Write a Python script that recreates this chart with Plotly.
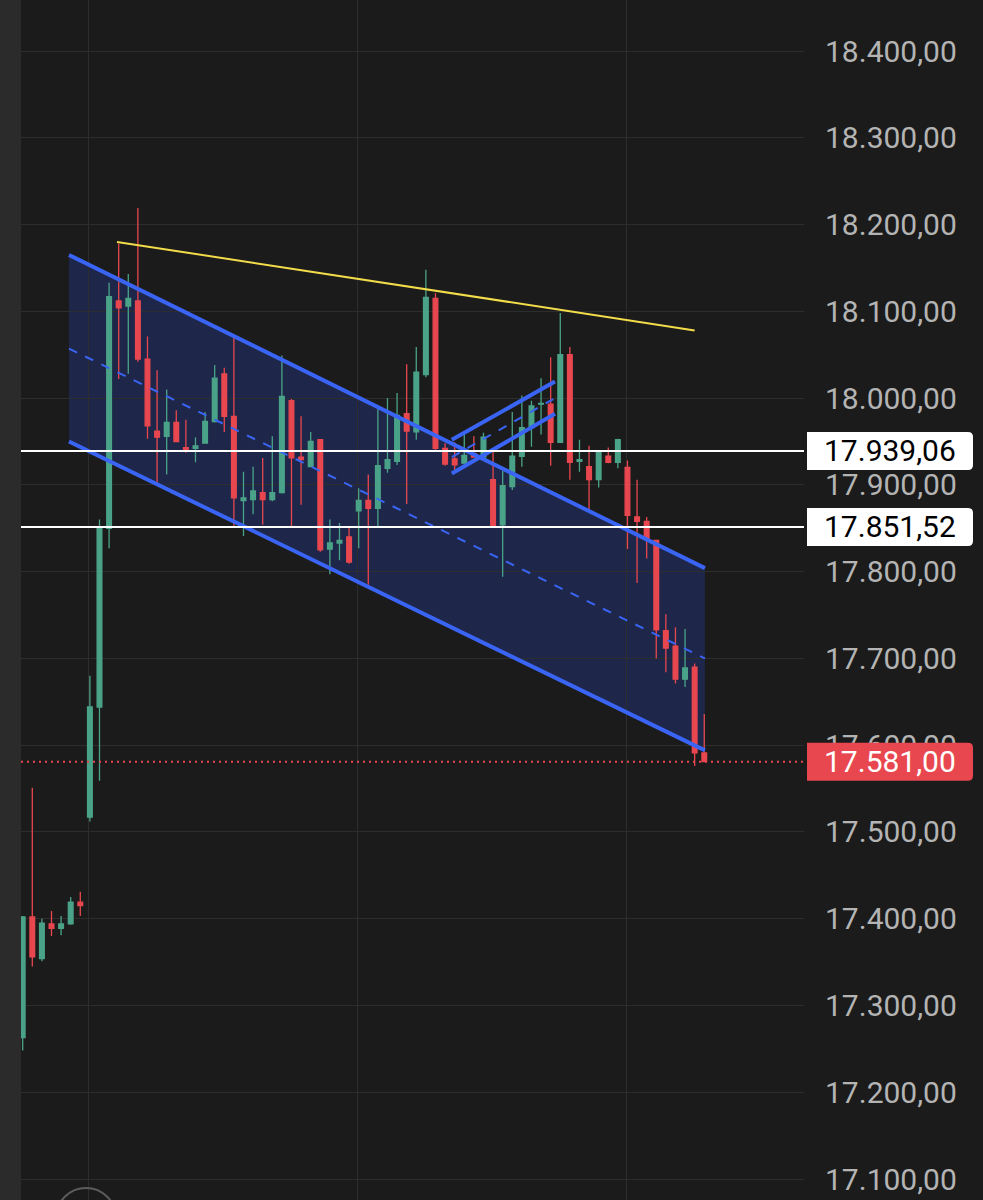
import plotly.graph_objects as go

# ---------------- data ----------------
opens = [17263, 17402, 17354, 17394, 17389, 17394, 17419, 17517, 17644, 17850,
         18112, 18106, 18112, 18045, 17962, 17956, 17972, 17943, 17942, 17948,
         17973, 18028, 17979, 17882, 17883, 17891, 17883, 17891, 17997, 17932,
         17921, 17952, 17826, 17833, 17840, 17870, 17882, 17873, 17919, 17927,
         17982, 17961, 18027, 18115, 17942, 17930, 17925, 17936, 17932, 17906,
         17854, 17898, 17933, 17966, 17993, 17993, 17949, 18050, 17927, 17921,
         17906, 17933, 17926, 17920, 17863, 17858, 17836, 17732, 17714, 17676,
         17690, 17591]
highs = [17403, 17551, 17400, 17409, 17403, 17425, 17431, 17680, 17860, 18133,
         18178, 18143, 18219, 18071, 18032, 18010, 17986, 17975, 17955, 17984,
         18038, 18035, 18071, 17915, 17921, 17931, 17956, 18049, 17999, 17979,
         17961, 17952, 17860, 17856, 17851, 17896, 17912, 17992, 18000, 18006,
         18039, 18059, 18148, 18121, 17948, 17949, 17960, 17956, 17960, 17938,
         17916, 17984, 18003, 17997, 18023, 18047, 18098, 18059, 17952, 17945,
         17939, 17943, 17953, 17928, 17906, 17863, 17836, 17751, 17736, 17734,
         17694, 17636]
lows = [17248, 17345, 17351, 17380, 17381, 17393, 17403, 17512, 17559, 17827,
        18022, 18028, 18042, 17953, 17901, 17912, 17949, 17937, 17926, 17948,
        17972, 17961, 17852, 17841, 17866, 17854, 17881, 17890, 17852, 17877,
        17921, 17823, 17797, 17813, 17809, 17827, 17785, 17852, 17914, 17923,
        17878, 17952, 18024, 17938, 17922, 17915, 17925, 17932, 17932, 17852,
        17794, 17894, 17921, 17944, 17958, 17922, 17949, 17906, 17915, 17872,
        17897, 17925, 17919, 17826, 17787, 17815, 17700, 17684, 17671, 17667,
        17576, 17581]
closes = [17402, 17356, 17395, 17389, 17394, 17419, 17415, 17644, 17851, 18117,
          18104, 18115, 18045, 17968, 17955, 17972, 17950, 17941, 17945, 17973,
          18023, 17979, 17885, 17885, 17893, 17883, 17891, 18002, 17931, 17929,
          17950, 17825, 17833, 17836, 17811, 17882, 17873, 17922, 17929, 17980,
          17962, 18030, 18116, 17942, 17924, 17923, 17934, 17932, 17955, 17852,
          17899, 17933, 17966, 17991, 17994, 17949, 18050, 17926, 17929, 17906,
          17937, 17926, 17952, 17865, 17858, 17838, 17733, 17712, 17676, 17689,
          17591, 17581]
candle_x = list(range(len(opens)))

# drawings (in candle-index / price units)
channel_x = [4.82, 71.07]
channel_upper = [18165, 17804]
channel_mid = [18057, 17700]
channel_lower = [17950, 17594]

trend_x = [9.82, 70.0]
trend_y = [18180, 18078]

small_x = [44.7, 55.45]
small_upper = [17952, 18019]
small_mid = [17932, 18000]
small_lower = [17913, 17982]

level_a = 17939.06
level_b = 17851.52
last_price = 17581.00

# ---------------- style ----------------
BG = "#1b1b1b"
GRID = "#2d2d2d"
UP = "#4aa388"
DOWN = "#e8474f"
BLUE = "#3a64f4"
FONT = "Roboto"
W, H = 983, 1200
PLOT_L, PLOT_R = 21, 804


def fmt(v):
    return f"{v:,.2f}".replace(",", "X").replace(".", ",").replace("X", ".")


fig = go.Figure()

fig.add_trace(go.Candlestick(
    x=candle_x, open=opens, high=highs, low=lows, close=closes,
    increasing=dict(line=dict(color=UP, width=1.3), fillcolor=UP),
    decreasing=dict(line=dict(color=DOWN, width=1.3), fillcolor=DOWN),
    whiskerwidth=0, hoverinfo="skip", showlegend=False,
))

line_specs = [
    (channel_x, channel_upper, BLUE, 4, "solid"),
    (channel_x, channel_lower, BLUE, 4, "solid"),
    (channel_x, channel_mid, BLUE, 2, "dash"),
    (small_x, small_upper, BLUE, 4, "solid"),
    (small_x, small_lower, BLUE, 4, "solid"),
    (small_x, small_mid, BLUE, 2, "dash"),
    (trend_x, trend_y, "#f2dc4a", 2, "solid"),
]
for xs, ys, col, w, dash in line_specs:
    fig.add_trace(go.Scatter(x=xs, y=ys, mode="lines",
                             line=dict(color=col, width=w, dash=dash),
                             hoverinfo="skip", showlegend=False))

shapes = []
# channel fill
path = (f"M {channel_x[0]},{channel_upper[0]} L {channel_x[1]},{channel_upper[1]} "
        f"L {channel_x[1]},{channel_lower[1]} L {channel_x[0]},{channel_lower[0]} Z")
shapes.append(dict(type="path", path=path, xref="x", yref="y",
                   fillcolor="rgba(41,82,235,0.22)", line=dict(width=0), layer="below"))
# horizontal levels
for lv in (level_a, level_b):
    shapes.append(dict(type="line", xref="x domain", yref="y", x0=0, x1=1, y0=lv, y1=lv,
                       line=dict(color="#ffffff", width=2), layer="above"))
shapes.append(dict(type="line", xref="x domain", yref="y", x0=0, x1=1,
                   y0=last_price, y1=last_price,
                   line=dict(color=DOWN, width=2, dash="2px,4px"), layer="above"))
# left strip
shapes.append(dict(type="rect", xref="paper", yref="paper", x0=0, x1=PLOT_L / W, y0=0, y1=1,
                   fillcolor="#2b2b2b", line=dict(width=0), layer="above"))
# bottom circle button
shapes.append(dict(type="circle", xref="paper", yref="paper",
                   x0=56 / W, x1=116 / W, y0=(H - 1248) / H, y1=(H - 1188) / H,
                   line=dict(color="#5c5c5c", width=2), layer="above"))

# price label boxes
box_path = "M 0,-19 L 161,-19 Q 166,-19 166,-14 L 166,14 Q 166,19 161,19 L 0,19 Z"
annotations = []
for lv, bg, fg in ((level_a, "#ffffff", "#000000"), (level_b, "#ffffff", "#000000"),
                   (last_price, DOWN, "#ffffff")):
    shapes.append(dict(type="path", path=box_path, xref="paper", yref="y",
                       xsizemode="pixel", ysizemode="pixel",
                       xanchor=807 / W, yanchor=lv,
                       fillcolor=bg, line=dict(width=0), layer="above"))
    annotations.append(dict(text=fmt(lv), x=958 / W, xref="paper", xanchor="right",
                            y=lv, yref="y", yanchor="middle", showarrow=False,
                            font=dict(family=FONT, size=30, color=fg)))

fig.update_layout(
    width=W, height=H,
    margin=dict(l=0, r=0, t=0, b=0),
    paper_bgcolor=BG, plot_bgcolor=BG,
    separators=",.",
    boxgap=0.3,
    showlegend=False,
    shapes=shapes,
    annotations=annotations,
    xaxis=dict(domain=[PLOT_L / W, PLOT_R / W], range=[-0.177, 81.39],
               showticklabels=False, showgrid=True, gridcolor=GRID, gridwidth=1,
               tick0=6.906, dtick=28, zeroline=False, rangeslider=dict(visible=False),
               showline=False, ticks=""),
    yaxis=dict(domain=[0, 1], range=[17075.8, 18458.8], side="right",
               tick0=0, dtick=100, tickformat=",.2f",
               showgrid=True, gridcolor=GRID, gridwidth=1, zeroline=False,
               showline=False, ticks="", ticklabelstandoff=20,
               tickfont=dict(family=FONT, size=30, color="#b4b4b4")),
)

fig.write_html(
    "out.html",
    config={"displayModeBar": False},
    post_script="document.body.style.margin='0';document.body.style.overflow='hidden';"
                "document.documentElement.style.background='#1b1b1b';",
)
